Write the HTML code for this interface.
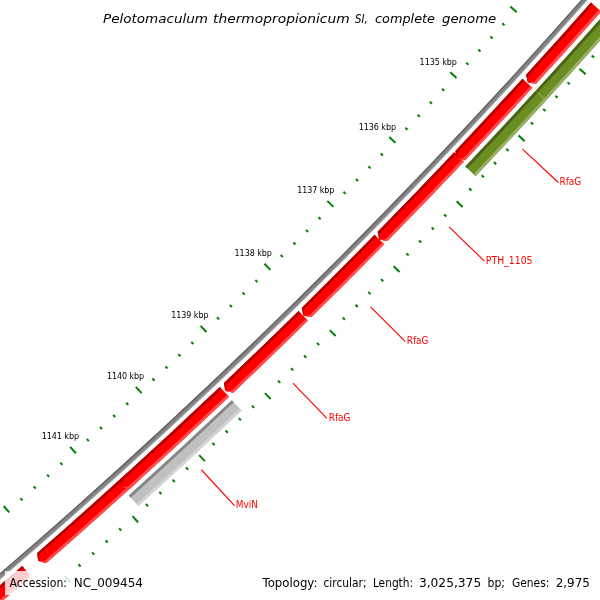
<!DOCTYPE html>
<html><head><meta charset="utf-8"><title>Pelotomaculum thermopropionicum SI, complete genome</title>
<style>
html,body{margin:0;padding:0;background:#fff;}
body{width:600px;height:600px;overflow:hidden;}
svg{display:block;}
text{font-family:"DejaVu Sans","Liberation Sans",sans-serif;}
</style></head><body>
<svg width="600" height="600" viewBox="0 0 600 600">
<rect width="600" height="600" fill="#ffffff"/>
<path d="M636.29 -63.19 A6019.67 6019.67 0 0 1 -67.70 630.78 L-64.69 634.39 A6024.37 6024.37 0 0 0 639.85 -60.13 Z" fill="#808080" />
<path d="M636.29 -63.19 A6019.67 6019.67 0 0 1 -67.70 630.78 L-67.10 631.50 A6020.61 6020.61 0 0 0 637.00 -62.58 Z" fill="#5a5a5a" />
<path d="M639.14 -60.74 A6023.43 6023.43 0 0 1 -65.29 633.67 L-64.69 634.39 A6024.37 6024.37 0 0 0 639.85 -60.13 Z" fill="#a6a6a6" />
<path d="M22.22 566.05 A6028.67 6028.67 0 0 1 -58.41 634.74 L-57.60 642.87 L-49.74 645.09 A6042.17 6042.17 0 0 0 31.07 576.25 Z" fill="#ff0000"/>
<path d="M22.22 566.05 A6028.67 6028.67 0 0 1 -58.41 634.74 L-57.60 642.87 L-56.67 636.81 A6031.37 6031.37 0 0 0 23.99 568.09 Z" fill="#b20000"/>
<path d="M29.30 574.21 A6039.47 6039.47 0 0 1 -51.48 643.02 L-57.60 642.87 L-49.74 645.09 A6042.17 6042.17 0 0 0 31.07 576.25 Z" fill="#ff4c4c"/>
<path d="M126.67 473.34 A6028.67 6028.67 0 0 1 37.21 553.01 L38.18 561.12 L46.09 563.18 A6042.17 6042.17 0 0 0 135.75 483.33 Z" fill="#ff0000"/>
<path d="M126.67 473.34 A6028.67 6028.67 0 0 1 37.21 553.01 L38.18 561.12 L38.98 555.05 A6031.37 6031.37 0 0 0 128.49 475.34 Z" fill="#b20000"/>
<path d="M133.93 481.33 A6039.47 6039.47 0 0 1 44.31 561.15 L38.18 561.12 L46.09 563.18 A6042.17 6042.17 0 0 0 135.75 483.33 Z" fill="#ff4c4c"/>
<path d="M219.78 386.94 A6028.67 6028.67 0 0 1 120.72 478.74 L121.84 486.83 L129.79 488.74 A6042.17 6042.17 0 0 0 229.07 396.73 Z" fill="#ff0000"/>
<path d="M219.78 386.94 A6028.67 6028.67 0 0 1 120.72 478.74 L121.84 486.83 L122.53 480.74 A6031.37 6031.37 0 0 0 221.64 388.89 Z" fill="#b20000"/>
<path d="M227.21 394.77 A6039.47 6039.47 0 0 1 127.97 486.74 L121.84 486.83 L129.79 488.74 A6042.17 6042.17 0 0 0 229.07 396.73 Z" fill="#ff4c4c"/>
<path d="M298.52 310.94 A6028.67 6028.67 0 0 1 223.93 383.00 L225.24 391.06 L233.23 392.79 A6042.17 6042.17 0 0 0 307.98 320.57 Z" fill="#ff0000"/>
<path d="M298.52 310.94 A6028.67 6028.67 0 0 1 223.93 383.00 L225.24 391.06 L225.79 384.96 A6031.37 6031.37 0 0 0 300.41 312.86 Z" fill="#b20000"/>
<path d="M306.09 318.64 A6039.47 6039.47 0 0 1 231.37 390.83 L225.24 391.06 L233.23 392.79 A6042.17 6042.17 0 0 0 307.98 320.57 Z" fill="#ff4c4c"/>
<path d="M374.56 234.85 A6028.67 6028.67 0 0 1 301.85 307.67 L303.30 315.70 L311.32 317.29 A6042.17 6042.17 0 0 0 384.20 244.31 Z" fill="#ff0000"/>
<path d="M374.56 234.85 A6028.67 6028.67 0 0 1 301.85 307.67 L303.30 315.70 L303.74 309.59 A6031.37 6031.37 0 0 0 376.49 236.74 Z" fill="#b20000"/>
<path d="M382.27 242.42 A6039.47 6039.47 0 0 1 309.42 315.36 L303.30 315.70 L311.32 317.29 A6042.17 6042.17 0 0 0 384.20 244.31 Z" fill="#ff4c4c"/>
<path d="M454.22 152.16 A6028.67 6028.67 0 0 1 377.68 231.67 L379.28 239.68 L387.32 241.12 A6042.17 6042.17 0 0 0 464.03 161.43 Z" fill="#ff0000"/>
<path d="M454.22 152.16 A6028.67 6028.67 0 0 1 377.68 231.67 L379.28 239.68 L379.61 233.56 A6031.37 6031.37 0 0 0 456.18 154.01 Z" fill="#b20000"/>
<path d="M462.07 159.57 A6039.47 6039.47 0 0 1 385.40 239.23 L379.28 239.68 L387.32 241.12 A6042.17 6042.17 0 0 0 464.03 161.43 Z" fill="#ff4c4c"/>
<path d="M522.45 78.75 A6028.67 6028.67 0 0 1 455.40 150.91 L457.15 158.89 L465.21 160.18 A6042.17 6042.17 0 0 0 532.41 87.86 Z" fill="#ff0000"/>
<path d="M522.45 78.75 A6028.67 6028.67 0 0 1 455.40 150.91 L457.15 158.89 L457.36 152.76 A6031.37 6031.37 0 0 0 524.44 80.57 Z" fill="#b20000"/>
<path d="M530.42 86.03 A6039.47 6039.47 0 0 1 463.25 158.33 L457.15 158.89 L465.21 160.18 A6042.17 6042.17 0 0 0 532.41 87.86 Z" fill="#ff4c4c"/>
<path d="M591.00 2.46 A6028.67 6028.67 0 0 1 526.09 74.76 L527.98 82.71 L536.06 83.86 A6042.17 6042.17 0 0 0 601.11 11.40 Z" fill="#ff0000"/>
<path d="M591.00 2.46 A6028.67 6028.67 0 0 1 526.09 74.76 L527.98 82.71 L528.09 76.58 A6031.37 6031.37 0 0 0 593.02 4.25 Z" fill="#b20000"/>
<path d="M599.09 9.61 A6039.47 6039.47 0 0 1 534.07 82.04 L527.98 82.71 L536.06 83.86 A6042.17 6042.17 0 0 0 601.11 11.40 Z" fill="#ff4c4c"/>
<path d="M646.76 -34.15 A6046.57 6046.57 0 0 1 535.80 90.67 L546.29 100.25 A6060.77 6060.77 0 0 0 657.51 -24.87 Z" fill="#6b8e23" />
<path d="M646.76 -34.15 A6046.57 6046.57 0 0 1 535.80 90.67 L537.90 92.58 A6049.41 6049.41 0 0 0 648.91 -32.29 Z" fill="#4b6318" />
<path d="M655.36 -26.72 A6057.93 6057.93 0 0 1 544.19 98.33 L546.29 100.25 A6060.77 6060.77 0 0 0 657.51 -24.87 Z" fill="#97b065" />
<path d="M535.66 90.82 A6046.57 6046.57 0 0 1 465.31 166.48 L475.63 176.24 A6060.77 6060.77 0 0 0 546.14 100.40 Z" fill="#6b8e23" />
<path d="M535.66 90.82 A6046.57 6046.57 0 0 1 465.31 166.48 L467.38 168.43 A6049.41 6049.41 0 0 0 537.76 92.74 Z" fill="#4b6318" />
<path d="M544.05 98.49 A6057.93 6057.93 0 0 1 473.57 174.28 L475.63 176.24 A6060.77 6060.77 0 0 0 546.14 100.40 Z" fill="#97b065" />
<path d="M231.83 400.17 A6046.57 6046.57 0 0 1 128.78 495.59 L138.30 506.12 A6060.77 6060.77 0 0 0 241.60 410.48 Z" fill="#c0c0c0" />
<path d="M231.83 400.17 A6046.57 6046.57 0 0 1 128.78 495.59 L130.68 497.70 A6049.41 6049.41 0 0 0 233.79 402.24 Z" fill="#868686" />
<path d="M239.65 408.42 A6057.93 6057.93 0 0 1 136.40 504.02 L138.30 506.12 A6060.77 6060.77 0 0 0 241.60 410.48 Z" fill="#d3d3d3" />

















































<line x1="591.68" y1="55.42" x2="593.99" y2="57.49" stroke="#008000" stroke-width="2.0"/>
<line x1="510.34" y1="6.52" x2="516.66" y2="12.20" stroke="#008000" stroke-width="2.0"/>
<line x1="579.53" y1="68.81" x2="585.70" y2="74.36" stroke="#008000" stroke-width="2.0"/>
<line x1="502.27" y1="23.22" x2="504.49" y2="25.23" stroke="#008000" stroke-width="2.0"/>
<line x1="567.49" y1="82.29" x2="569.79" y2="84.37" stroke="#008000" stroke-width="2.0"/>
<line x1="490.29" y1="36.40" x2="492.51" y2="38.42" stroke="#008000" stroke-width="2.0"/>
<line x1="555.34" y1="95.67" x2="557.63" y2="97.76" stroke="#008000" stroke-width="2.0"/>
<line x1="478.27" y1="49.55" x2="480.48" y2="51.58" stroke="#008000" stroke-width="2.0"/>
<line x1="543.14" y1="109.01" x2="545.43" y2="111.11" stroke="#008000" stroke-width="2.0"/>
<line x1="466.21" y1="62.67" x2="468.42" y2="64.70" stroke="#008000" stroke-width="2.0"/>
<line x1="530.91" y1="122.32" x2="533.19" y2="124.42" stroke="#008000" stroke-width="2.0"/>
<line x1="450.31" y1="72.21" x2="456.54" y2="77.99" stroke="#008000" stroke-width="2.0"/>
<line x1="518.56" y1="135.52" x2="524.65" y2="141.17" stroke="#008000" stroke-width="2.0"/>
<line x1="441.98" y1="88.79" x2="444.18" y2="90.83" stroke="#008000" stroke-width="2.0"/>
<line x1="506.32" y1="148.83" x2="508.59" y2="150.94" stroke="#008000" stroke-width="2.0"/>
<line x1="429.81" y1="101.79" x2="432.00" y2="103.85" stroke="#008000" stroke-width="2.0"/>
<line x1="493.97" y1="162.02" x2="496.23" y2="164.15" stroke="#008000" stroke-width="2.0"/>
<line x1="417.60" y1="114.76" x2="419.78" y2="116.82" stroke="#008000" stroke-width="2.0"/>
<line x1="481.58" y1="175.18" x2="483.83" y2="177.31" stroke="#008000" stroke-width="2.0"/>
<line x1="405.35" y1="127.70" x2="407.52" y2="129.76" stroke="#008000" stroke-width="2.0"/>
<line x1="469.15" y1="188.31" x2="471.39" y2="190.44" stroke="#008000" stroke-width="2.0"/>
<line x1="389.30" y1="137.00" x2="395.44" y2="142.87" stroke="#008000" stroke-width="2.0"/>
<line x1="456.60" y1="201.33" x2="462.60" y2="207.06" stroke="#008000" stroke-width="2.0"/>
<line x1="380.73" y1="153.45" x2="382.89" y2="155.53" stroke="#008000" stroke-width="2.0"/>
<line x1="444.17" y1="214.44" x2="446.40" y2="216.59" stroke="#008000" stroke-width="2.0"/>
<line x1="368.36" y1="166.28" x2="370.52" y2="168.36" stroke="#008000" stroke-width="2.0"/>
<line x1="431.62" y1="227.46" x2="433.85" y2="229.61" stroke="#008000" stroke-width="2.0"/>
<line x1="355.96" y1="179.06" x2="358.11" y2="181.15" stroke="#008000" stroke-width="2.0"/>
<line x1="419.03" y1="240.43" x2="421.25" y2="242.59" stroke="#008000" stroke-width="2.0"/>
<line x1="343.52" y1="191.81" x2="345.66" y2="193.91" stroke="#008000" stroke-width="2.0"/>
<line x1="406.41" y1="253.37" x2="408.62" y2="255.54" stroke="#008000" stroke-width="2.0"/>
<line x1="327.33" y1="200.88" x2="333.39" y2="206.84" stroke="#008000" stroke-width="2.0"/>
<line x1="393.67" y1="266.20" x2="399.58" y2="272.02" stroke="#008000" stroke-width="2.0"/>
<line x1="318.52" y1="217.20" x2="320.65" y2="219.31" stroke="#008000" stroke-width="2.0"/>
<line x1="381.04" y1="279.13" x2="383.24" y2="281.31" stroke="#008000" stroke-width="2.0"/>
<line x1="305.96" y1="229.84" x2="308.09" y2="231.95" stroke="#008000" stroke-width="2.0"/>
<line x1="368.30" y1="291.95" x2="370.49" y2="294.14" stroke="#008000" stroke-width="2.0"/>
<line x1="293.37" y1="242.44" x2="295.49" y2="244.56" stroke="#008000" stroke-width="2.0"/>
<line x1="355.52" y1="304.74" x2="357.71" y2="306.93" stroke="#008000" stroke-width="2.0"/>
<line x1="280.74" y1="255.00" x2="282.85" y2="257.13" stroke="#008000" stroke-width="2.0"/>
<line x1="342.70" y1="317.48" x2="344.89" y2="319.69" stroke="#008000" stroke-width="2.0"/>
<line x1="264.42" y1="263.82" x2="270.39" y2="269.87" stroke="#008000" stroke-width="2.0"/>
<line x1="329.78" y1="330.12" x2="335.61" y2="336.03" stroke="#008000" stroke-width="2.0"/>
<line x1="255.37" y1="280.01" x2="257.47" y2="282.15" stroke="#008000" stroke-width="2.0"/>
<line x1="316.96" y1="342.86" x2="319.13" y2="345.08" stroke="#008000" stroke-width="2.0"/>
<line x1="242.62" y1="292.46" x2="244.72" y2="294.61" stroke="#008000" stroke-width="2.0"/>
<line x1="304.03" y1="355.50" x2="306.19" y2="357.72" stroke="#008000" stroke-width="2.0"/>
<line x1="229.84" y1="304.87" x2="231.93" y2="307.02" stroke="#008000" stroke-width="2.0"/>
<line x1="291.06" y1="368.09" x2="293.21" y2="370.32" stroke="#008000" stroke-width="2.0"/>
<line x1="217.03" y1="317.24" x2="219.11" y2="319.40" stroke="#008000" stroke-width="2.0"/>
<line x1="278.05" y1="380.65" x2="280.20" y2="382.88" stroke="#008000" stroke-width="2.0"/>
<line x1="200.58" y1="325.82" x2="206.46" y2="331.96" stroke="#008000" stroke-width="2.0"/>
<line x1="264.94" y1="393.09" x2="270.68" y2="399.09" stroke="#008000" stroke-width="2.0"/>
<line x1="191.28" y1="341.87" x2="193.35" y2="344.05" stroke="#008000" stroke-width="2.0"/>
<line x1="251.93" y1="405.64" x2="254.07" y2="407.89" stroke="#008000" stroke-width="2.0"/>
<line x1="178.36" y1="354.13" x2="180.42" y2="356.31" stroke="#008000" stroke-width="2.0"/>
<line x1="238.81" y1="418.08" x2="240.94" y2="420.33" stroke="#008000" stroke-width="2.0"/>
<line x1="165.39" y1="366.35" x2="167.45" y2="368.54" stroke="#008000" stroke-width="2.0"/>
<line x1="225.66" y1="430.48" x2="227.78" y2="432.73" stroke="#008000" stroke-width="2.0"/>
<line x1="152.39" y1="378.53" x2="154.44" y2="380.72" stroke="#008000" stroke-width="2.0"/>
<line x1="212.47" y1="442.84" x2="214.58" y2="445.10" stroke="#008000" stroke-width="2.0"/>
<line x1="135.82" y1="386.86" x2="141.60" y2="393.09" stroke="#008000" stroke-width="2.0"/>
<line x1="199.17" y1="455.08" x2="204.82" y2="461.16" stroke="#008000" stroke-width="2.0"/>
<line x1="126.29" y1="402.77" x2="128.32" y2="404.98" stroke="#008000" stroke-width="2.0"/>
<line x1="185.98" y1="467.44" x2="188.08" y2="469.71" stroke="#008000" stroke-width="2.0"/>
<line x1="113.18" y1="414.84" x2="115.21" y2="417.05" stroke="#008000" stroke-width="2.0"/>
<line x1="172.67" y1="479.68" x2="174.77" y2="481.96" stroke="#008000" stroke-width="2.0"/>
<line x1="100.04" y1="426.86" x2="102.06" y2="429.08" stroke="#008000" stroke-width="2.0"/>
<line x1="159.34" y1="491.88" x2="161.43" y2="494.17" stroke="#008000" stroke-width="2.0"/>
<line x1="86.86" y1="438.85" x2="88.87" y2="441.07" stroke="#008000" stroke-width="2.0"/>
<line x1="145.96" y1="504.04" x2="148.05" y2="506.34" stroke="#008000" stroke-width="2.0"/>
<line x1="70.16" y1="446.93" x2="75.85" y2="453.24" stroke="#008000" stroke-width="2.0"/>
<line x1="132.49" y1="516.09" x2="138.04" y2="522.25" stroke="#008000" stroke-width="2.0"/>
<line x1="60.39" y1="462.70" x2="62.39" y2="464.93" stroke="#008000" stroke-width="2.0"/>
<line x1="119.11" y1="528.24" x2="121.18" y2="530.55" stroke="#008000" stroke-width="2.0"/>
<line x1="47.10" y1="474.57" x2="49.10" y2="476.81" stroke="#008000" stroke-width="2.0"/>
<line x1="105.63" y1="540.29" x2="107.69" y2="542.60" stroke="#008000" stroke-width="2.0"/>
<line x1="33.78" y1="486.39" x2="35.77" y2="488.64" stroke="#008000" stroke-width="2.0"/>
<line x1="92.11" y1="552.29" x2="94.16" y2="554.61" stroke="#008000" stroke-width="2.0"/>
<line x1="20.42" y1="498.18" x2="22.41" y2="500.43" stroke="#008000" stroke-width="2.0"/>
<line x1="78.55" y1="564.25" x2="80.60" y2="566.58" stroke="#008000" stroke-width="2.0"/>
<line x1="3.61" y1="506.02" x2="9.21" y2="512.41" stroke="#008000" stroke-width="2.0"/>
<line x1="64.90" y1="576.09" x2="70.36" y2="582.34" stroke="#008000" stroke-width="2.0"/>

<line x1="51.34" y1="588.05" x2="53.37" y2="590.39" stroke="#008000" stroke-width="2.0"/>


























<text x="419.60" y="64.88" font-size="8" fill="#000" textLength="37.3" lengthAdjust="spacing" class="tl">1135 kbp</text>
<text x="358.74" y="129.51" font-size="8" fill="#000" textLength="37.3" lengthAdjust="spacing" class="tl">1136 kbp</text>
<text x="297.13" y="193.23" font-size="8" fill="#000" textLength="37.3" lengthAdjust="spacing" class="tl">1137 kbp</text>
<text x="234.57" y="256.02" font-size="8" fill="#000" textLength="37.3" lengthAdjust="spacing" class="tl">1138 kbp</text>
<text x="171.19" y="317.87" font-size="8" fill="#000" textLength="37.3" lengthAdjust="spacing" class="tl">1139 kbp</text>
<text x="106.89" y="378.76" font-size="8" fill="#000" textLength="37.3" lengthAdjust="spacing" class="tl">1140 kbp</text>
<text x="41.68" y="438.69" font-size="8" fill="#000" textLength="37.3" lengthAdjust="spacing" class="tl">1141 kbp</text>
<line x1="522.51" y1="149.20" x2="558.32" y2="182.50" stroke="#ff0000" stroke-width="1.15"/>
<text x="559.50" y="184.90" font-size="10" fill="#ff0000" textLength="21.8" lengthAdjust="spacingAndGlyphs" class="fl">RfaG</text>
<line x1="448.97" y1="226.91" x2="484.18" y2="260.83" stroke="#ff0000" stroke-width="1.15"/>
<text x="485.85" y="263.80" font-size="10" fill="#ff0000" textLength="46.65" lengthAdjust="spacingAndGlyphs" class="fl">PTH_1105</text>
<line x1="370.55" y1="306.83" x2="405.13" y2="341.40" stroke="#ff0000" stroke-width="1.15"/>
<text x="406.70" y="343.80" font-size="10" fill="#ff0000" textLength="21.7" lengthAdjust="spacingAndGlyphs" class="fl">RfaG</text>
<line x1="292.93" y1="383.12" x2="326.89" y2="418.30" stroke="#ff0000" stroke-width="1.15"/>
<text x="328.70" y="420.80" font-size="10" fill="#ff0000" textLength="21.7" lengthAdjust="spacingAndGlyphs" class="fl">RfaG</text>
<line x1="201.30" y1="469.75" x2="234.53" y2="505.63" stroke="#ff0000" stroke-width="1.15"/>
<text x="235.70" y="507.80" font-size="10" fill="#ff0000" textLength="22.2" lengthAdjust="spacingAndGlyphs" class="fl">MviN</text>
<rect x="5" y="571" width="142" height="24" fill="#ffffff" fill-opacity="0.8"/>
<text y="23" font-size="13" fill="#000" font-style="italic"><tspan x="103" textLength="105" lengthAdjust="spacingAndGlyphs">Pelotomaculum</tspan> <tspan x="213" textLength="136.6" lengthAdjust="spacingAndGlyphs">thermopropionicum</tspan> <tspan x="355" textLength="12.6" lengthAdjust="spacingAndGlyphs">SI,</tspan> <tspan x="375" textLength="60" lengthAdjust="spacingAndGlyphs">complete</tspan> <tspan x="442" textLength="54.25" lengthAdjust="spacingAndGlyphs">genome</tspan></text>
<text y="586.9" font-size="12" fill="#000" ><tspan x="9.5" textLength="57.5" lengthAdjust="spacingAndGlyphs">Accession:</tspan> <tspan x="73.75" textLength="69.25" lengthAdjust="spacingAndGlyphs">NC_009454</tspan></text>
<text y="586.9" font-size="12" fill="#000" ><tspan x="262.5" textLength="54.9" lengthAdjust="spacingAndGlyphs">Topology:</tspan> <tspan x="323.4" textLength="43.2" lengthAdjust="spacingAndGlyphs">circular;</tspan> <tspan x="372.9" textLength="40.2" lengthAdjust="spacingAndGlyphs">Length:</tspan> <tspan x="418.9" textLength="62.3" lengthAdjust="spacingAndGlyphs">3,025,375</tspan> <tspan x="487.6" textLength="17.4" lengthAdjust="spacingAndGlyphs">bp;</tspan> <tspan x="512" textLength="37.3" lengthAdjust="spacingAndGlyphs">Genes:</tspan> <tspan x="555.7" textLength="34.2" lengthAdjust="spacingAndGlyphs">2,975</tspan></text>
</svg>
</body></html>
